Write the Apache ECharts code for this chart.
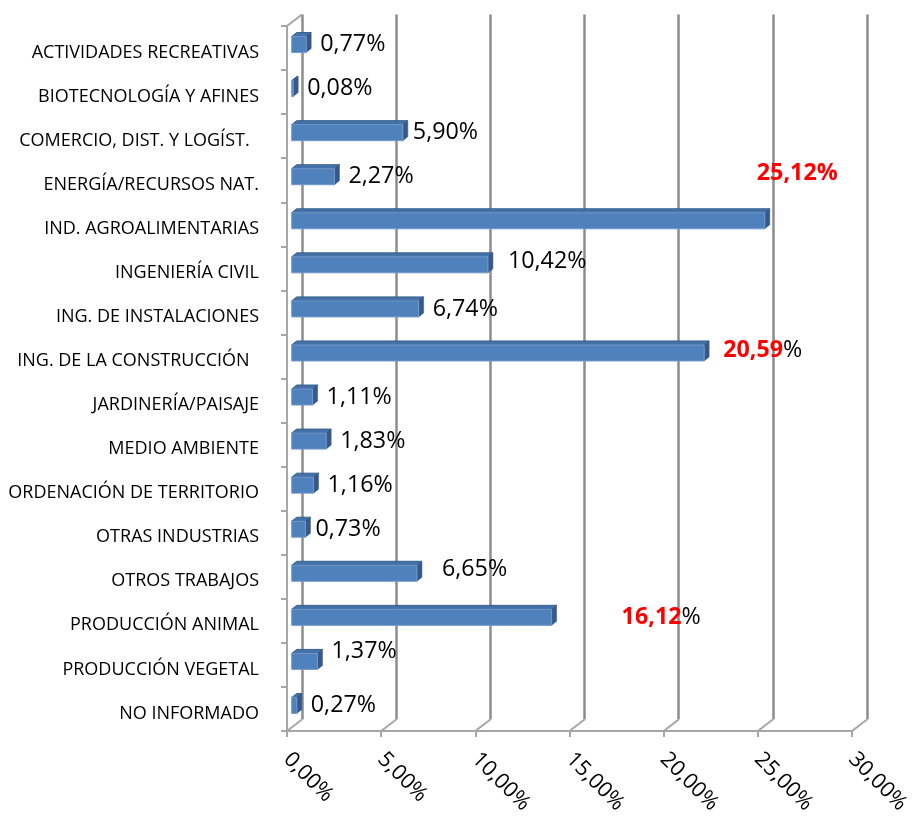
<!DOCTYPE html>
<html><head><meta charset="utf-8">
<script src="https://cdn.jsdelivr.net/npm/echarts@6/dist/echarts.min.js"></script>
<style>html,body{margin:0;padding:0;background:#fff}#c{width:914px;height:820px}</style>
</head><body><div id="c"></div>
<script>
// ---------- data ----------
const categories = [
  'ACTIVIDADES RECREATIVAS',
  'BIOTECNOLOGÍA Y AFINES',
  'COMERCIO, DIST. Y LOGÍST.  ',
  'ENERGÍA/RECURSOS NAT.',
  'IND. AGROALIMENTARIAS',
  'INGENIERÍA CIVIL',
  'ING. DE INSTALACIONES',
  'ING. DE LA CONSTRUCCIÓN  ',
  'JARDINERÍA/PAISAJE',
  'MEDIO AMBIENTE',
  'ORDENACIÓN DE TERRITORIO',
  'OTRAS INDUSTRIAS',
  'OTROS TRABAJOS',
  'PRODUCCIÓN ANIMAL',
  'PRODUCCIÓN VEGETAL',
  'NO INFORMADO'
];
// bar lengths as drawn (percent)
const barValues = [0.77, 0.08, 5.90, 2.27, 25.12, 10.42, 6.74, 21.9, 1.11, 1.83, 1.16, 0.73, 6.65, 13.8, 1.37, 0.27];
// data label numbers as printed
const labelNumbers = ['0,77', '0,08', '5,90', '2,27', '25,12', '10,42', '6,74', '20,59', '1,11', '1,83', '1,16', '0,73', '6,65', '16,12', '1,37', '0,27'];
const xTickValues = [0, 5, 10, 15, 20, 25, 30];
const xTickLabels = ['0,00%', '5,00%', '10,00%', '15,00%', '20,00%', '25,00%', '30,00%'];

// ---------- styling / layout ----------
const FONT = "'Open Sans', 'Noto Sans', sans-serif";
const DEPTH_X = 15, DEPTH_Y = 11.5;            // 3D wall offset
const BAR_SHIFT_X = 4.7, BAR_SHIFT_Y = -3.5;    // bar placement inside depth
const BAR_H = 16, BAR_DX = 5, BAR_DY = 4;       // bar front height & bevel
const LABEL_SIZE = 23.3;
const redAll = new Set([4]);
const redNum = new Set([7, 13]);
const labelGap = {2: 5, 4: -13, 5: 15, 7: 14, 11: 5, 12: 20, 13: 65};
const labelDy = {4: -47.5, 5: -3, 7: -2.5, 12: -3.5, 14: -10};

function labelRich(i) {
  const n = labelNumbers[i];
  if (redAll.has(i)) return '{r|' + n + '%}';
  if (redNum.has(i)) return '{r|' + n + '}{b|%}';
  return '{b|' + n + '%}';
}

const chart = echarts.init(document.getElementById('c'), null, {renderer: 'canvas'});

const GL = 287, GT = 26, GW = 565, GH = 705;

const option = {
  backgroundColor: '#ffffff',
  animation: false,
  grid: [
    {left: GL, top: GT, width: GW, height: GH},
    {left: GL + DEPTH_X, top: GT - DEPTH_Y, width: GW, height: GH}
  ],
  xAxis: [
    {
      type: 'value', gridIndex: 0, min: 0, max: 30, interval: 5,
      axisLine: {show: true, lineStyle: {color: '#a6a6a6', width: 2}},
      axisTick: {show: true, length: 6, lineStyle: {color: '#a6a6a6', width: 2}},
      splitLine: {show: false},
      axisLabel: {
        rotate: -45, margin: 25, color: '#000', fontFamily: FONT, fontSize: 21.5,
        formatter: v => xTickLabels[xTickValues.indexOf(v)]
      }
    },
    {
      type: 'value', gridIndex: 1, min: 0, max: 30, interval: 5,
      axisLine: {show: false}, axisTick: {show: false}, axisLabel: {show: false},
      splitLine: {show: true, lineStyle: {color: '#8c8c8c', width: 2.5}}
    }
  ],
  yAxis: [
    {
      type: 'category', gridIndex: 0, data: categories, inverse: true,
      axisLine: {show: true, lineStyle: {color: '#a6a6a6', width: 2}},
      axisTick: {show: true, length: 6, lineStyle: {color: '#a6a6a6', width: 2}},
      axisLabel: {
        margin: 28,
        formatter: v => '{c|' + v + '}',
        rich: {c: {color: '#000', fontFamily: FONT, fontSize: 18, padding: [9, 0, 0, 0]}}
      }
    },
    {
      type: 'category', gridIndex: 1, data: categories, inverse: true, show: false
    }
  ],
  series: [
    {
      type: 'custom', name: 'floor', xAxisIndex: 0, yAxisIndex: 0, z: 1,
      data: xTickValues.map(v => [v, 0]),
      encode: {x: 0},
      silent: true,
      renderItem: function (params, api) {
        const cs = params.coordSys;
        const x = api.coord([api.value(0), 0])[0];
        const yb = cs.y + cs.height;
        const children = [{
          type: 'line',
          shape: {x1: x, y1: yb, x2: x + DEPTH_X, y2: yb - DEPTH_Y},
          style: {stroke: '#a6a6a6', lineWidth: 2}
        }];
        if (params.dataIndex === 0) {
          children.push({
            type: 'line',
            shape: {x1: cs.x, y1: cs.y, x2: cs.x + DEPTH_X, y2: cs.y - DEPTH_Y},
            style: {stroke: '#a6a6a6', lineWidth: 2}
          });
        }
        return {type: 'group', children: children};
      }
    },
    {
      type: 'custom', name: 'bars', xAxisIndex: 0, yAxisIndex: 0, z: 3,
      data: barValues.map((v, i) => [i, v]),
      encode: {x: 1, y: 0},
      renderItem: function (params, api) {
        const i = api.value(0), v = api.value(1);
        const base = api.coord([0, i]);
        const end = api.coord([v, i]);
        const x0 = base[0] + BAR_SHIFT_X, x1 = end[0] + BAR_SHIFT_X;
        const yc = base[1] + BAR_SHIFT_Y;
        const yT = yc - BAR_H / 2, yB = yc + BAR_H / 2;
        const gap = (labelGap[i] !== undefined) ? labelGap[i] : 9;
        const dy = labelDy[i] || 0;
        return {
          type: 'group',
          children: [
            {type: 'polygon', shape: {points: [[x0, yT], [x1, yT], [x1 + BAR_DX, yT - BAR_DY], [x0 + BAR_DX, yT - BAR_DY]]},
              style: {fill: '#4472a8', stroke: '#385f8e', lineWidth: 1}},
            {type: 'polygon', shape: {points: [[x1, yT], [x1 + BAR_DX, yT - BAR_DY], [x1 + BAR_DX, yB - BAR_DY], [x1, yB]]},
              style: {fill: '#36598a', stroke: '#36598a', lineWidth: 0.5}},
            {type: 'rect', shape: {x: x0, y: yT, width: Math.max(x1 - x0, 0.5), height: BAR_H},
              style: {fill: '#4f81bd', stroke: '#7399c9', lineWidth: 1}},
            {type: 'text', z2: 10,
              style: {
                x: x1 + BAR_DX + gap, y: yc + dy,
                text: labelRich(i),
                align: 'left', verticalAlign: 'middle',
                rich: {
                  b: {fontFamily: FONT, fontSize: LABEL_SIZE, fill: '#000000'},
                  r: {fontFamily: FONT, fontSize: LABEL_SIZE, fill: '#ff0000', fontWeight: 'bold'}
                }
              }}
          ]
        };
      }
    }
  ]
};
chart.setOption(option);
</script>
</body></html>
